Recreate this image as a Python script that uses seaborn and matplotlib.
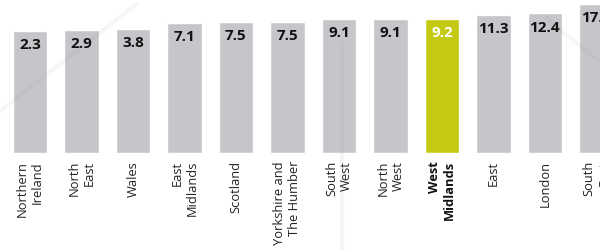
import matplotlib
matplotlib.use("Agg")
import matplotlib.pyplot as plt
import seaborn as sns
from matplotlib.lines import Line2D

regions = ["Northern\nIreland", "North\nEast", "Wales", "East\nMidlands", "Scotland",
           "Yorkshire and\nThe Humber", "South\nWest", "North\nWest", "West\nMidlands",
           "East", "London", "South\nEast"]
values = [2.3, 2.9, 3.8, 7.1, 7.5, 7.5, 9.1, 9.1, 9.2, 11.3, 12.4, 17.5]
highlight = "West\nMidlands"

GREY = "#c6c5ca"
GREEN = "#c4c912"
BASE = -66.0

sns.set_theme(style="white")
plt.rcParams["font.family"] = ["Open Sans", "DejaVu Sans"]

fig = plt.figure(figsize=(6.0, 2.51), dpi=100)
ax = fig.add_axes([0, 97 / 251, 1, 154 / 251])

palette = {r: (GREEN if r == highlight else GREY) for r in regions}
sns.barplot(x=regions, y=values, hue=regions, palette=palette, legend=False,
            width=0.666, saturation=1, ax=ax, order=regions, hue_order=regions)

# bars rise from the chart's baseline
for p in ax.patches:
    h = p.get_height()
    p.set_y(BASE)
    p.set_height(h - BASE)

ax.set_xlim(-0.581, 11.07)
ax.set_ylim(BASE, 20.5)
ax.set_yticks([])
ax.set_ylabel("")
ax.set_xlabel("")
for s in ax.spines.values():
    s.set_visible(False)

ax.set_xticks(range(len(regions)))
ax.set_xticklabels(regions, rotation=90, ha="center", va="top",
                   multialignment="right", fontsize=9.3, color="#222222")
ax.tick_params(axis="x", length=0, pad=5)
for lbl in ax.get_xticklabels():
    if lbl.get_text() == highlight:
        lbl.set_fontweight("bold")
        lbl.set_color("#111111")

for i, (r, v) in enumerate(zip(regions, values)):
    ax.annotate(f"{v:.1f}", xy=(i, v), xytext=(0, -12.3), textcoords="offset points",
                ha="center", va="baseline", fontsize=11, fontweight="bold",
                color=("white" if r == highlight else "#111111"),
                annotation_clip=False)

# faint watermark strokes
def wm(x0, y0, x1, y1):
    fig.add_artist(Line2D([x0 / 600, x1 / 600], [1 - y0 / 251, 1 - y1 / 251],
                          transform=fig.transFigure, color="#808080", alpha=0.07,
                          linewidth=3, solid_capstyle="butt", zorder=10))

wm(0, 112, 138, 4)
wm(545, 18, 600, 63)
wm(342, 42, 342, 251)

fig.savefig("out.png", dpi=100)
